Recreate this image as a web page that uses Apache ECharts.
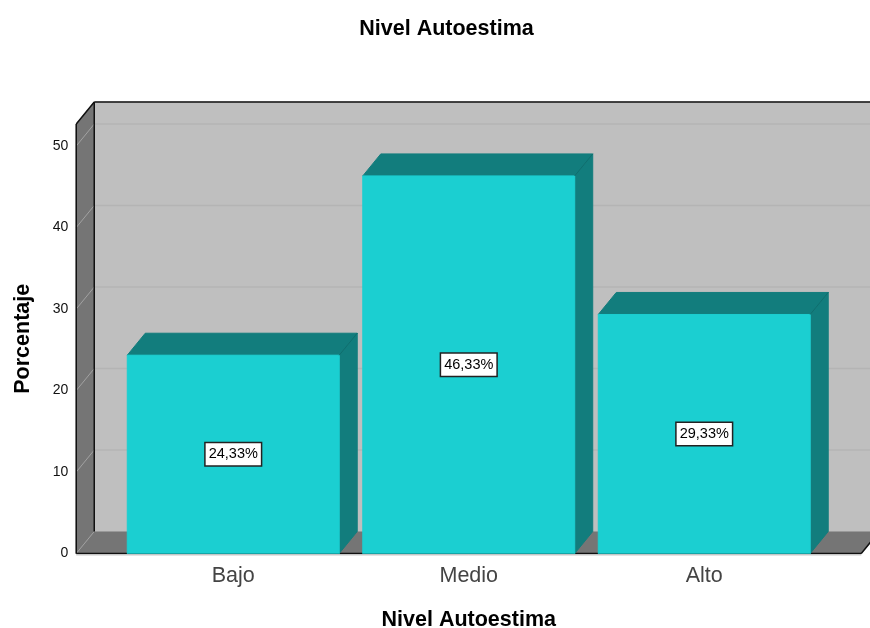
<!DOCTYPE html>
<html>
<head>
<meta charset="utf-8">
<style>html,body{margin:0;padding:0;background:#fff}#chart{width:870px;height:628px}</style>
<script src="https://cdn.jsdelivr.net/npm/echarts@6/dist/echarts.min.js"></script>
</head>
<body>
<div id="chart"></div>
<script>
// Nivel de autoestima: porcentaje por categoria
const titleText = 'Nivel Autoestima';
const yAxisName = 'Porcentaje';
const categories = ['Bajo', 'Medio', 'Alto'];
const percentages = [24.33, 46.33, 29.33];
const yMax = 52.7;
const yInterval = 10;
const gridValues = [10, 20, 30, 40, 50];

// Perspective of the box, and floor overhang in band widths
const depth = { dx: 18, dy: -22 };
const overhang = 1 / 6;
const barRatio = 0.9;

const colors = {
  front: '#1BCFD1', dark: '#127D7D', frontEdge: '#14A5A7',
  wall: '#BFBFBF', side: '#757575', grid: '#B4B4B4', sideGrid: '#A2A2A2', edge: '#111111'
};

const poly = (points, fill, stroke) => ({
  type: 'polygon', silent: true,
  shape: { points },
  style: { fill, stroke: stroke || fill, lineWidth: 1 }
});
const seg = (a, b, stroke, lineWidth) => ({
  type: 'line', silent: true,
  shape: { x1: a[0], y1: a[1], x2: b[0], y2: b[1] },
  style: { stroke, lineWidth: lineWidth || 1, fill: null }
});
const back = p => [p[0] + depth.dx, p[1] + depth.dy];

// Back wall, left wall and floor, all offset from the axis scales
function renderBox(params, api) {
  const band = api.size([1, 0])[0];
  const first = api.coord([0, 0]);
  const last = api.coord([categories.length - 1, 0]);
  const xL = first[0] - band * (0.5 + overhang);
  const xR = last[0] + band * (0.5 + overhang);
  const y0 = first[1];
  const yT = api.coord([0, yMax])[1];
  const a = [xL, y0], b = [xR, y0], c = [xL, yT], d = [xR, yT];
  const children = [
    poly([back(c), back(d), back(b), back(a)], colors.wall),
    poly([a, c, back(c), back(a)], colors.side),
    poly([a, b, back(b), back(a)], colors.side)
  ];
  gridValues.forEach(v => {
    const y = api.coord([0, v])[1];
    children.push(seg(back([xL, y]), back([xR, y]), colors.grid, 1.5));
    children.push(seg([xL, y], back([xL, y]), colors.sideGrid, 1));
  });
  children.push(
    seg(a, back(a), colors.sideGrid, 1),
    seg(back(a), back(b), '#999999', 1),
    seg(a, c, colors.edge, 1.5),
    seg(c, back(c), colors.edge, 1.5),
    seg(back(c), back(d), colors.edge, 1.5),
    seg(back(c), back(a), colors.edge, 1.5),
    seg(a, b, colors.edge, 1.5),
    seg(b, back(b), colors.edge, 1.5),
    seg([xL, y0 + 1.5], [xR, y0 + 1.5], '#C8C8C8', 1)
  );
  return { type: 'group', children };
}

// Bar with front, top and side faces plus its boxed value label
function renderBar(params, api) {
  const i = api.value(0), v = api.value(1);
  const center = api.coord([i, v]);
  const base = api.coord([i, 0]);
  const w = api.size([1, 0])[0] * barRatio;
  const l = center[0] - w / 2, r = center[0] + w / 2;
  const tl = [l, center[1]], tr = [r, center[1]], bl = [l, base[1]], br = [r, base[1]];
  return {
    type: 'group',
    children: [
      poly([tl, tr, back(tr), back(tl)], colors.dark),
      poly([tr, br, back(br), back(tr)], colors.dark),
      poly([tl, tr, br, bl], colors.front),
      seg(tr, back(tr), '#0F6E6E', 1),
      seg(bl, br, colors.frontEdge, 1),
      {
        type: 'text', silent: true,
        x: center[0], y: (center[1] + base[1]) / 2,
        style: {
          text: v.toFixed(2).replace('.', ',') + '%',
          align: 'center', verticalAlign: 'middle',
          fontFamily: 'Liberation Sans', fontSize: 14.5, fill: '#000',
          backgroundColor: '#fff', borderColor: '#222', borderWidth: 1.5,
          padding: [4, 3, 3, 3]
        }
      }
    ]
  };
}

const chart = echarts.init(document.getElementById('chart'), null, { renderer: 'canvas' });
chart.setOption({
  animation: false,
  backgroundColor: '#fff',
  title: {
    text: titleText, left: 441.5, top: 13, textAlign: 'center',
    textStyle: { fontFamily: 'Liberation Sans', fontWeight: 'bold', fontSize: 21.5, color: '#000' }
  },
  grid: { left: 115.5, width: 706.5, top: 124, height: 429.5, outerBoundsMode: 'none' },
  xAxis: {
    type: 'category', data: categories,
    name: titleText, nameLocation: 'middle', nameGap: 56,
    nameTextStyle: { fontFamily: 'Liberation Sans', fontWeight: 'bold', fontSize: 21.5, color: '#000' },
    axisLine: { show: false }, axisTick: { show: false },
    axisLabel: { fontFamily: 'Liberation Sans', fontSize: 21.5, color: '#444', margin: 12 }
  },
  yAxis: {
    type: 'value', min: 0, max: yMax, interval: yInterval, offset: 39.25,
    name: yAxisName, nameLocation: 'middle', nameGap: 42,
    nameTextStyle: { fontFamily: 'Liberation Sans', fontWeight: 'bold', fontSize: 21.5, color: '#000' },
    splitLine: { show: false }, axisLine: { show: false }, axisTick: { show: false },
    axisLabel: { fontFamily: 'Liberation Sans', fontSize: 14, color: '#111', margin: 8, showMaxLabel: false, padding: [2, 0, 0, 0] }
  },
  series: [
    { type: 'custom', z: 1, silent: true, renderItem: renderBox, data: [[0, 0]], encode: { x: 0, y: 1 } },
    { type: 'custom', z: 2, silent: true, renderItem: renderBar,
      data: percentages.map((p, i) => [i, p]), encode: { x: 0, y: 1 } }
  ]
});
</script>
</body>
</html>
